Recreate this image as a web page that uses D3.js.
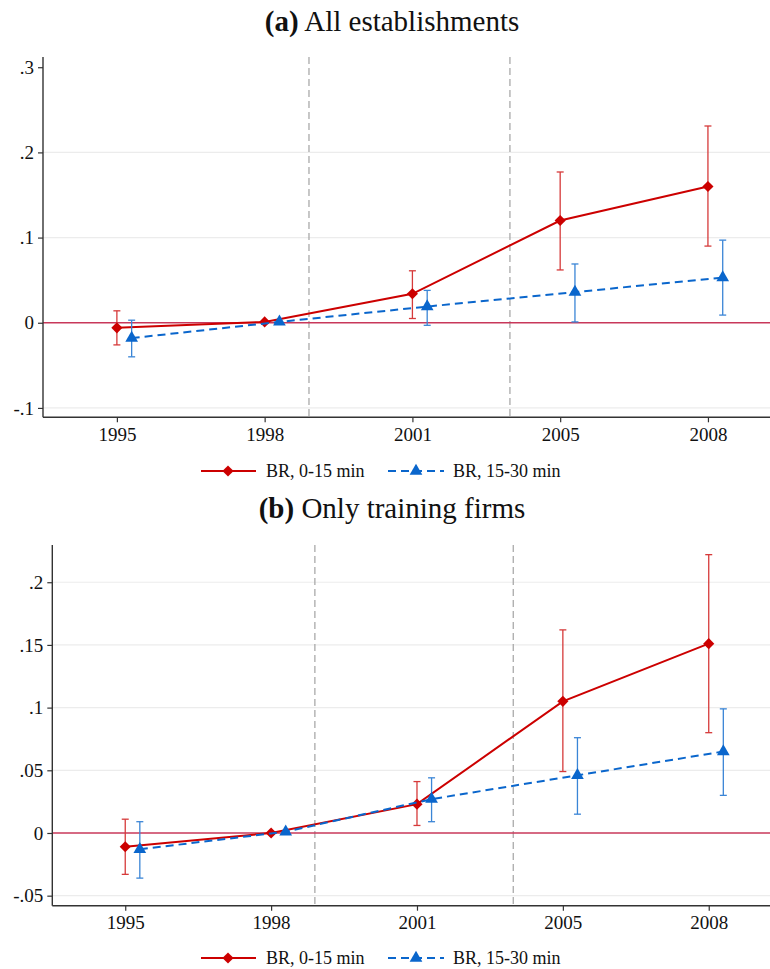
<!DOCTYPE html>
<html>
<head>
  <meta charset="UTF-8">
  <title>Event study</title>
  <script src="https://cdn.jsdelivr.net/npm/d3@7"></script>
  <style>
    body { margin: 0; background: #fff; }
    text { font-family: "Liberation Serif", "DejaVu Serif", serif; fill: #111; }
  </style>
</head>
<body>
<script>
  // categories (x axis)
  var years = ["1995", "1998", "2001", "2005", "2008"];
  // vertical reference lines, in category index units
  var refLines = [1.3, 2.66];

  // panel (a) All establishments
  var aRed = [-0.006, 0.001, 0.034, 0.120, 0.160];
  var aRedLo = [-0.026, null, 0.005, 0.062, 0.090];
  var aRedHi = [0.014, null, 0.061, 0.177, 0.231];
  var aBlue = [-0.018, 0.001, 0.019, 0.036, 0.053];
  var aBlueLo = [-0.040, null, -0.003, 0.001, 0.009];
  var aBlueHi = [0.003, null, 0.038, 0.069, 0.097];
  var aTicks = [-0.1, 0, 0.1, 0.2, 0.3];
  var aTickLabels = ["-.1", "0", ".1", ".2", ".3"];

  // panel (b) Only training firms
  var bRed = [-0.011, 0.000, 0.023, 0.105, 0.151];
  var bRedLo = [-0.033, null, 0.006, 0.049, 0.080];
  var bRedHi = [0.011, null, 0.041, 0.162, 0.222];
  var bBlue = [-0.013, 0.001, 0.027, 0.046, 0.065];
  var bBlueLo = [-0.036, null, 0.009, 0.015, 0.030];
  var bBlueHi = [0.009, null, 0.044, 0.076, 0.099];
  var bTicks = [-0.05, 0, 0.05, 0.1, 0.15, 0.2];
  var bTickLabels = ["-.05", "0", ".05", ".1", ".15", ".2"];

  var seriesNames = ["BR, 0-15 min", "BR, 15-30 min"];

  var red = "#cc0000", redBar = "#d63a3a", blue = "#0a66cc", blueBar = "#3a85d6";

  var W = 770, H = 969;
  var svg = d3.select("body").append("svg").attr("width", W).attr("height", H);

  var diamond = d3.symbol().type(d3.symbolSquare).size(62);
  var triangle = d3.symbol().type(d3.symbolTriangle).size(70);

  function drawPanel(p) {
    var g = svg.append("g");

    var x = d3.scaleLinear().domain([-0.5, 4.42]).range([p.left, W]);
    var y = d3.scaleLinear().domain(p.yDomain).range([p.bottom, p.top]);

    // title
    var t = g.append("text").attr("x", 392).attr("y", p.titleY)
      .attr("text-anchor", "middle").style("font-size", "29px");
    t.append("tspan").style("font-weight", "bold").text(p.tag);
    t.append("tspan").text(" " + p.title);

    // gridlines
    g.selectAll(".grid").data(p.ticks.filter(function (d) { return d !== 0 && d < p.gridMax; }))
      .enter().append("line")
      .attr("x1", p.left).attr("x2", W)
      .attr("y1", function (d) { return y(d); }).attr("y2", function (d) { return y(d); })
      .style("stroke", "#ececec").style("stroke-width", 1.2);

    // reference vertical lines
    g.selectAll(".vref").data(refLines).enter().append("line")
      .attr("x1", function (d) { return x(d); }).attr("x2", function (d) { return x(d); })
      .attr("y1", p.top).attr("y2", p.bottom)
      .style("stroke", "#aaaaaa").style("stroke-width", 1.3)
      .style("stroke-dasharray", "7,4");

    // zero line
    g.append("line").attr("x1", p.left).attr("x2", W)
      .attr("y1", y(0)).attr("y2", y(0))
      .style("stroke", "#c8385a").style("stroke-width", 1.4);

    // axes
    var yAxis = d3.axisLeft(y).tickValues(p.ticks)
      .tickFormat(function (d, i) { return p.tickLabels[i]; })
      .tickSize(5).tickPadding(4);
    var ya = g.append("g").attr("transform", "translate(" + p.left + ",0)").call(yAxis);
    var xAxis = d3.axisBottom(x).tickValues(d3.range(years.length))
      .tickFormat(function (d) { return years[d]; })
      .tickSize(5).tickPadding(5);
    var xa = g.append("g").attr("transform", "translate(0," + p.bottom + ")").call(xAxis);
    [ya, xa].forEach(function (a) {
      a.select(".domain").attr("d", null);
      a.selectAll(".tick line").style("stroke", "#333").style("stroke-width", 1.2);
      a.selectAll(".tick text").style("font-size", "19px")
        .style("font-family", "'Liberation Serif', serif").attr("fill", "#111");
    });
    g.append("line").attr("x1", p.left).attr("x2", p.left).attr("y1", p.top).attr("y2", p.bottom)
      .style("stroke", "#333").style("stroke-width", 1.4);
    g.append("line").attr("x1", p.left).attr("x2", W).attr("y1", p.bottom).attr("y2", p.bottom)
      .style("stroke", "#333").style("stroke-width", 1.4);

    var series = [
      { v: p.red, lo: p.redLo, hi: p.redHi, off: 0, col: red, bar: redBar, dash: null, sym: "d" },
      { v: p.blue, lo: p.blueLo, hi: p.blueHi, off: 0.1, col: blue, bar: blueBar, dash: "8,5", sym: "t" }
    ];

    series.forEach(function (s) {
      var pts = s.v.map(function (v, i) { return { i: i, v: v, lo: s.lo[i], hi: s.hi[i] }; });
      // error bars
      var eb = g.selectAll(null).data(pts.filter(function (d) { return d.lo !== null; }))
        .enter().append("g").style("stroke", s.bar).style("stroke-width", 1.3);
      eb.append("line")
        .attr("x1", function (d) { return x(d.i + s.off); }).attr("x2", function (d) { return x(d.i + s.off); })
        .attr("y1", function (d) { return y(d.lo); }).attr("y2", function (d) { return y(d.hi); });
      ["lo", "hi"].forEach(function (k) {
        eb.append("line")
          .attr("x1", function (d) { return x(d.i + s.off) - 3.5; }).attr("x2", function (d) { return x(d.i + s.off) + 3.5; })
          .attr("y1", function (d) { return y(d[k]); }).attr("y2", function (d) { return y(d[k]); });
      });
      // line
      var line = d3.line().x(function (d) { return x(d.i + s.off); }).y(function (d) { return y(d.v); });
      g.append("path").datum(pts).attr("d", line)
        .style("fill", "none").style("stroke", s.col).style("stroke-width", 2)
        .style("stroke-dasharray", s.dash);
      // markers
      g.selectAll(null).data(pts).enter().append("path")
        .attr("d", s.sym === "d" ? diamond : triangle)
        .attr("transform", function (d) {
          return "translate(" + x(d.i + s.off) + "," + y(d.v) + ")" + (s.sym === "d" ? " rotate(45)" : "");
        })
        .style("fill", s.col);
    });

    // legend
    var lg = g.append("g").attr("transform", "translate(0," + p.legendY + ")");
    lg.append("line").attr("x1", 201).attr("x2", 256).attr("y1", 0).attr("y2", 0)
      .style("stroke", red).style("stroke-width", 2);
    lg.append("path").attr("d", diamond).attr("transform", "translate(228,0) rotate(45)").style("fill", red);
    lg.append("text").attr("x", 266).attr("y", 0).attr("dy", "0.35em").style("font-size", "18px").text(seriesNames[0]);
    lg.append("line").attr("x1", 388).attr("x2", 444).attr("y1", 0).attr("y2", 0)
      .style("stroke", blue).style("stroke-width", 2).style("stroke-dasharray", "8,5");
    lg.append("path").attr("d", triangle).attr("transform", "translate(416,0)").style("fill", blue);
    lg.append("text").attr("x", 453).attr("y", 0).attr("dy", "0.35em").style("font-size", "18px").text(seriesNames[1]);
  }

  drawPanel({
    tag: "(a)", title: "All establishments", titleY: 31,
    left: 43, top: 57, bottom: 417.3, yDomain: [-0.111, 0.312], gridMax: 0.25,
    ticks: aTicks, tickLabels: aTickLabels, legendY: 471,
    red: aRed, redLo: aRedLo, redHi: aRedHi, blue: aBlue, blueLo: aBlueLo, blueHi: aBlueHi
  });

  drawPanel({
    tag: "(b)", title: "Only training firms", titleY: 518,
    left: 52.3, top: 545, bottom: 905.7, yDomain: [-0.058, 0.2297], gridMax: 0.25,
    ticks: bTicks, tickLabels: bTickLabels, legendY: 958,
    red: bRed, redLo: bRedLo, redHi: bRedHi, blue: bBlue, blueLo: bBlueLo, blueHi: bBlueHi
  });
</script>
</body>
</html>
